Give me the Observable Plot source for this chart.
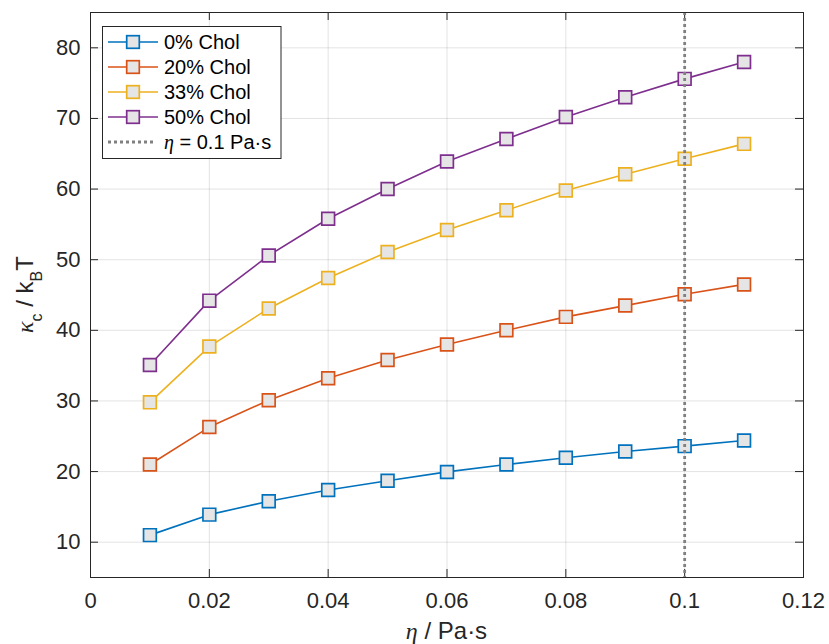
<!DOCTYPE html>
<html>
<head>
<meta charset="utf-8">
<script src="https://cdn.jsdelivr.net/npm/d3@7"></script>
<script src="https://cdn.jsdelivr.net/npm/@observablehq/plot@0.6"></script>
<style>
  html, body { margin: 0; padding: 0; background: #ffffff; }
  #chart { width: 829px; height: 644px; }
</style>
</head>
<body>
<div id="chart"></div>
<script>
// ---- data ----
const eta = [0.01, 0.02, 0.03, 0.04, 0.05, 0.06, 0.07, 0.08, 0.09, 0.10, 0.11];
const chol0  = [11.0, 13.9, 15.8, 17.4, 18.7, 19.95, 21.0, 21.95, 22.85, 23.6, 24.4];
const chol20 = [21.0, 26.3, 30.1, 33.2, 35.8, 38.0, 40.0, 41.9, 43.5, 45.1, 46.5];
const chol33 = [29.8, 37.7, 43.1, 47.4, 51.1, 54.2, 57.0, 59.8, 62.1, 64.3, 66.4];
const chol50 = [35.1, 44.2, 50.6, 55.8, 60.0, 63.9, 67.1, 70.2, 73.0, 75.6, 78.0];
const seriesNames = ["0% Chol", "20% Chol", "33% Chol", "50% Chol"];
const seriesValues = [chol0, chol20, chol33, chol50];
const seriesColors = ["#0072BD", "#D95319", "#EDB120", "#7E2F8E"];
const xTicks = [0, 0.02, 0.04, 0.06, 0.08, 0.1, 0.12];
const yTicks = [10, 20, 30, 40, 50, 60, 70, 80];
const xDomain = [0, 0.12];
const yDomain = [5, 85];
const etaRef = 0.1;
const refLabel = "= 0.1 Pa·s";

// long table built from the arrays
const table = [];
seriesNames.forEach((name, i) => {
  eta.forEach((e, j) => table.push({series: name, eta: e, kappa: seriesValues[i][j]}));
});

// ---- layout ----
const W = 829, H = 644;
const mL = 90, mR = 26, mT = 12, mB = 67;
const plotW = W - mL - mR, plotH = H - mT - mB;
const tickLen = 8;
const axisColor = "#262626";
const sans = "'Liberation Sans', Arial, Helvetica, sans-serif";
const serif = "'Liberation Serif', 'DejaVu Serif', serif";

const plot = Plot.plot({
  width: W, height: H,
  marginLeft: mL, marginRight: mR, marginTop: mT, marginBottom: mB,
  style: {fontFamily: sans, fontSize: "22px", color: axisColor, background: "#ffffff"},
  x: {domain: xDomain},
  y: {domain: yDomain},
  color: {domain: seriesNames, range: seriesColors},
  marks: [
    Plot.gridX(xTicks, {stroke: axisColor, strokeOpacity: 0.13, strokeWidth: 1}),
    Plot.gridY(yTicks, {stroke: axisColor, strokeOpacity: 0.13, strokeWidth: 1}),
    Plot.axisX(xTicks, {tickSize: 0, tickPadding: 15, tickFormat: d => String(d), label: null, fontSize: 22, fill: axisColor}),
    Plot.axisY(yTicks, {tickSize: 0, tickPadding: 10, tickFormat: d => String(d), label: null, fontSize: 22, fill: axisColor}),
    // inward ticks on all four sides
    Plot.tickX(xTicks, {x: d => d, stroke: axisColor, insetTop: plotH - tickLen}),
    Plot.tickX(xTicks, {x: d => d, stroke: axisColor, insetBottom: plotH - tickLen}),
    Plot.tickY(yTicks, {y: d => d, stroke: axisColor, insetRight: plotW - tickLen}),
    Plot.tickY(yTicks, {y: d => d, stroke: axisColor, insetLeft: plotW - tickLen}),
    Plot.line(table, {x: "eta", y: "kappa", z: "series", stroke: "series", strokeWidth: 1.6}),
    Plot.dot(table, {x: "eta", y: "kappa", symbol: "square", r: 7.2, fill: "#e5e5e5", stroke: "series", strokeWidth: 1.7}),
    Plot.ruleX([etaRef], {stroke: "#808080", strokeWidth: 2.8, strokeDasharray: "3,3"}),
    Plot.frame({stroke: axisColor, strokeWidth: 1})
  ]
});

document.getElementById("chart").appendChild(plot);

const svg = d3.select(plot);

// ---- axis titles ----
const xt = svg.append("text")
  .attr("x", mL + plotW / 2).attr("y", 639)
  .attr("text-anchor", "middle")
  .attr("fill", axisColor)
  .style("font-family", sans).style("font-size", "24px");
xt.append("tspan").style("font-family", serif).style("font-style", "italic").text("η");
xt.append("tspan").text(" / Pa·s");

const yt = svg.append("text")
  .attr("transform", `translate(33,${mT + plotH / 2}) rotate(-90)`)
  .attr("text-anchor", "middle")
  .attr("fill", axisColor)
  .style("font-family", sans).style("font-size", "24px");
yt.append("tspan").style("font-family", serif).style("font-style", "italic").text("κ");
yt.append("tspan").attr("dy", 9).style("font-size", "16px").text("c");
yt.append("tspan").attr("dy", -9).text(" / k");
yt.append("tspan").attr("dy", 9).style("font-size", "16px").text("B");
yt.append("tspan").attr("dy", -9).text("T");

// ---- legend ----
const lg = svg.append("g").attr("text-anchor", "start");
lg.append("rect")
  .attr("x", 102.5).attr("y", 26.5).attr("width", 178.5).attr("height", 132)
  .attr("fill", "#ffffff").attr("stroke", axisColor).attr("stroke-width", 1);
const rowY = i => 42 + i * 25;
seriesNames.forEach((name, i) => {
  const y = rowY(i);
  lg.append("line").attr("x1", 108).attr("x2", 158).attr("y1", y).attr("y2", y)
    .attr("stroke", seriesColors[i]).attr("stroke-width", 1.6);
  lg.append("rect").attr("x", 133 - 6.3).attr("y", y - 6.3).attr("width", 12.6).attr("height", 12.6)
    .attr("fill", "#e5e5e5").attr("stroke", seriesColors[i]).attr("stroke-width", 1.7);
  lg.append("text").attr("x", 164).attr("y", y).attr("dy", "0.36em")
    .attr("text-anchor", "start")
    .attr("fill", "#000").style("font-family", sans).style("font-size", "20px").text(name);
});
{
  const y = rowY(4);
  lg.append("line").attr("x1", 108).attr("x2", 154).attr("y1", y).attr("y2", y)
    .attr("stroke", "#808080").attr("stroke-width", 2.8).attr("stroke-dasharray", "3,3");
  const t = lg.append("text").attr("x", 164).attr("y", y).attr("dy", "0.36em")
    .attr("text-anchor", "start")
    .attr("fill", "#000").style("font-family", sans).style("font-size", "20px");
  t.append("tspan").style("font-family", serif).style("font-style", "italic").text("η");
  t.append("tspan").text(" " + refLabel);
}
</script>
</body>
</html>
